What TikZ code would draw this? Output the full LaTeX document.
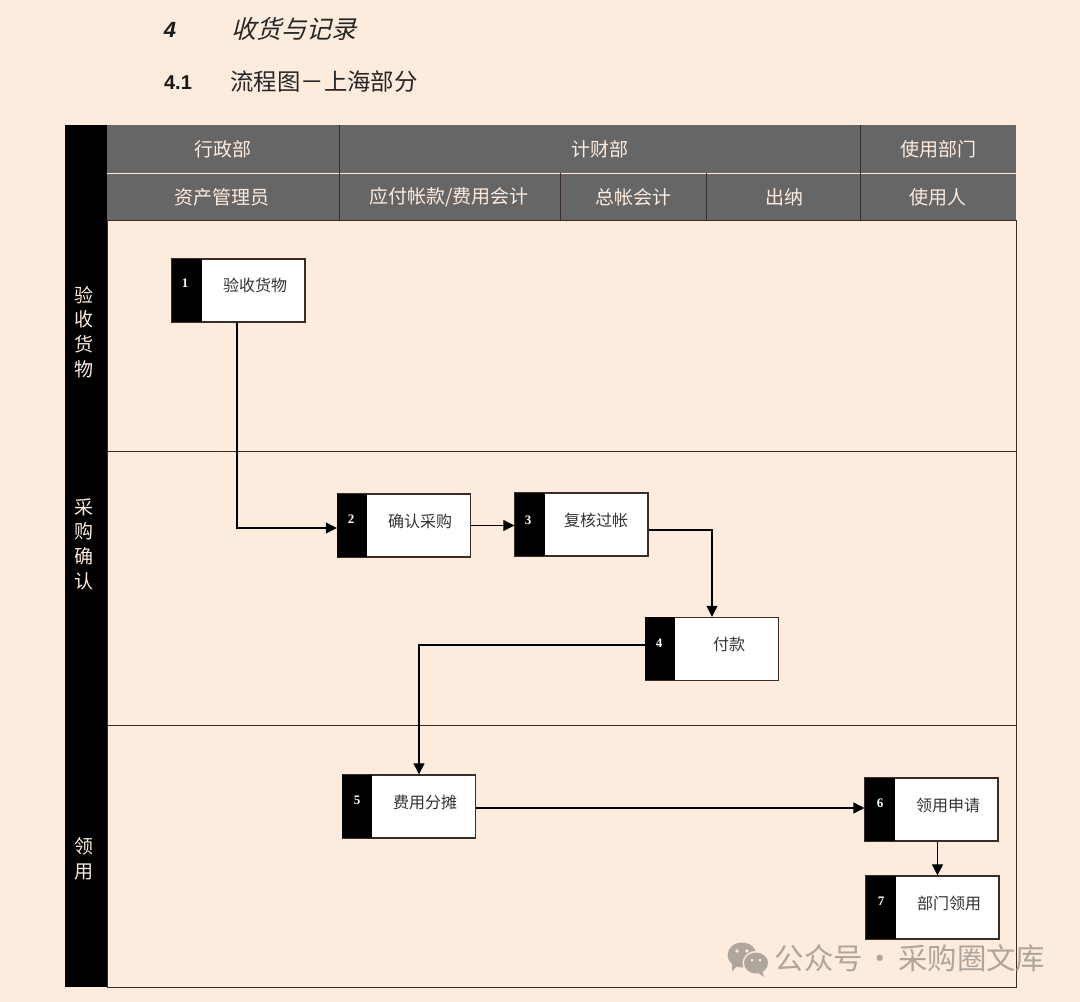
\documentclass[tikz,border=0pt]{standalone}
\usepackage{fontspec}
\usepackage{tikz}
\usetikzlibrary{arrows.meta}
\setmainfont{Liberation Sans}
\newfontfamily\cjk{Noto Sans CJK SC}
\newfontfamily\cjkslant[FakeSlant=0.25]{Noto Sans CJK SC}
\newfontfamily\numfont{Liberation Serif}
\definecolor{paper}{HTML}{FDEBDD}
\definecolor{headgray}{HTML}{666666}
\definecolor{framecol}{HTML}{3A2C26}
\definecolor{markgray}{HTML}{AEA59C}
\tikzset{
  headtext/.style={text=paper, font=\cjk\fontsize{19}{23}\selectfont, inner sep=0pt},
  sidetext/.style={text=paper, font=\cjk\fontsize{19}{24.6}\selectfont, align=center, inner sep=0pt},
  stepbox/.style={draw=framecol, line width=1.4pt, fill=white, minimum width=133pt, minimum height=63pt, inner sep=0pt},
  steptag/.style={fill=black, minimum width=30pt, minimum height=63pt, anchor=north west, inner sep=0pt},
  stepnum/.style={text=white, font=\numfont\bfseries\fontsize{13}{15}\selectfont, inner sep=0pt},
  steptext/.style={text=black!80, font=\cjk\fontsize{16}{19}\selectfont, inner sep=0pt},
  flow/.style={draw=black, line width=1.2pt, -{Triangle[length=11pt,width=11pt]}}
}

\begin{document}
\begin{tikzpicture}[x=1pt,y=-1pt]
  \fill[paper] (0,0) rectangle (1080,1002);

  % 标题
  \node[font=\bfseries\itshape\fontsize{22}{26}\selectfont, text=black!90, inner sep=0pt] (t1num) at (170,30) {4};
  \node[font=\cjkslant\fontsize{25}{30}\selectfont, text=black!85, inner sep=0pt] (t1) at (294,29) {收货与记录};
  \node[font=\bfseries\fontsize{20}{24}\selectfont, text=black!90, inner sep=0pt] (t2num) at (178,83) {4.1};
  \node[font=\cjk\fontsize{23.4}{28}\selectfont, text=black!85, inner sep=0pt] (t2) at (324,82) {流程图－上海部分};

  % 外框
  \draw[framecol, line width=1pt] (107,220) rectangle (1016,987);
  \draw[framecol, line width=1pt] (107,451) -- (1016,451);
  \draw[framecol, line width=1pt] (107,725) -- (1016,725);
  \fill[black] (65,125) rectangle (107,987);

  % 表头
  \fill[headgray] (107,125) rectangle (1016,220);
  \draw[paper, line width=1pt] (107,173) -- (1016,173);
  \draw[framecol, line width=1pt] (339,125) -- (339,220);
  \draw[framecol, line width=1pt] (860,125) -- (860,220);
  \draw[framecol, line width=1pt] (560,173) -- (560,220);
  \draw[framecol, line width=1pt] (706,173) -- (706,220);
  \node[headtext] (deptA) at (223,149) {行政部};
  \node[headtext] (deptB) at (600,149) {计财部};
  \node[headtext] (deptC) at (938,149) {使用部门};
  \node[headtext] (roleA) at (222,197) {资产管理员};
  \node[headtext] (roleB) at (449,197) {应付帐款/费用会计};
  \node[headtext] (roleC) at (633,197) {总帐会计};
  \node[headtext] (roleD) at (784,197) {出纳};
  \node[headtext] (roleE) at (938,197) {使用人};

  % 左侧阶段
  \node[sidetext] (phaseA) at (84,332) {验\\收\\货\\物};
  \node[sidetext] (phaseB) at (84,544) {采\\购\\确\\认};
  \node[sidetext] (phaseC) at (84,859) {领\\用};

  % 步骤框
  \node[stepbox] (s1) at (238.5,290.5) {};
  \node[stepbox] (s2) at (404,525.5) {};
  \node[stepbox] (s3) at (581.5,524.5) {};
  \node[stepbox] (s4) at (712,649) {};
  \node[stepbox] (s5) at (409,806.5) {};
  \node[stepbox] (s6) at (931.5,809.5) {};
  \node[stepbox] (s7) at (932.5,907.5) {};
  \foreach \s in {s1,s2,s3,s4,s5,s6,s7}
    \node[steptag] (\s tag) at (\s.north west) {};

  \node[stepnum] (n1) at (185,283) {1};
  \node[stepnum] (n2) at (351,519) {2};
  \node[stepnum] (n3) at (528,520) {3};
  \node[stepnum] (n4) at (659,643) {4};
  \node[stepnum] (n5) at (357,800) {5};
  \node[stepnum] (n6) at (880,803) {6};
  \node[stepnum] (n7) at (881,901) {7};

  \node[steptext] (l1) at (255,285) {验收货物};
  \node[steptext] (l2) at (420,521) {确认采购};
  \node[steptext] (l3) at (596,520) {复核过帐};
  \node[steptext] (l4) at (729,644) {付款};
  \node[steptext] (l5) at (425,802) {费用分摊};
  \node[steptext] (l6) at (948,805) {领用申请};
  \node[steptext] (l7) at (949,903) {部门领用};

  % 连线
  \draw[flow] ([xshift=-1.5pt]s1.south) |- ([yshift=-2.5pt]s2.west);
  \draw[flow] (s2.east) -- (s2.east -| s3.west);
  \draw[flow] ([yshift=-5.5pt]s3.east) -| (s4.north);
  \draw[flow] ([yshift=4pt]s4.west) -| ([xshift=10pt]s5.north);
  \draw[flow] ([yshift=-1.5pt]s5.east) -- ([yshift=-1.5pt]s5.east -| s6.west);
  \draw[flow] ([xshift=6pt]s6.south) -- ([xshift=6pt]s6.south |- s7.north);

  % 水印
  \fill[markgray] (742,955) ellipse (14.5 and 12.5);
  \fill[markgray] (732,964) -- (737,966) -- (732,971) -- cycle;
  \fill[paper] (756,963) ellipse (13.5 and 12);
  \fill[markgray] (756,963) ellipse (12 and 10.5);
  \fill[markgray] (762,970) -- (764,977) -- (757,972) -- cycle;
  \fill[paper] (737,951) circle (1.8) (747,951) circle (1.8) (752,960) circle (1.5) (760,960) circle (1.5);
  \node[font=\cjk\fontsize{29.4}{34}\selectfont, text=markgray, inner sep=0pt] (mark) at (910,958) {公众号\hspace{3pt}·\hspace{3pt}采购圈文库};
\end{tikzpicture}
\end{document}
